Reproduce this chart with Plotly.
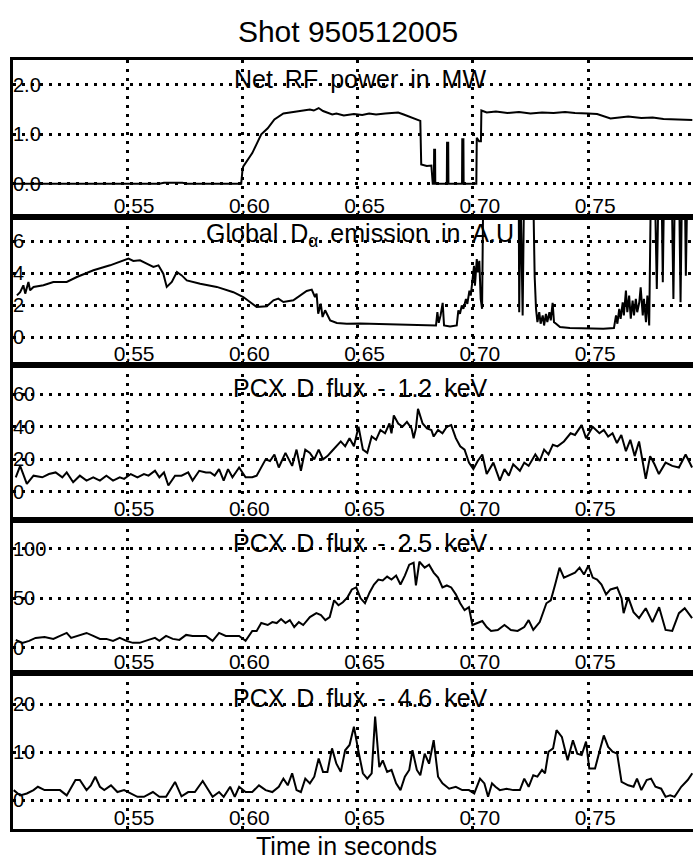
import plotly.graph_objects as go

# ---------------- data ----------------
X_TICKS = [0.55, 0.60, 0.65, 0.70, 0.75]
X_TICK_TEXT = ["0.55", "0.60", "0.65", "0.70", "0.75"]

panel_titles = ["Net RF power in MW",
                "Global D<sub>α</sub> emission in A.U",
                "PCX D flux - 1.2 keV",
                "PCX D flux - 2.5 keV",
                "PCX D flux - 4.6 keV"]

y_tickvals = [[0, 1, 2], [0, 2, 4, 6], [0, 20, 40, 60], [0, 50, 100], [0, 10, 20]]
y_ticktext = [["0.0", "1.0", "2.0"], ["0", "2", "4", "6"], ["0", "20", "40", "60"],
              ["0", "50", "100"], ["0", "10", "20"]]

# Net RF power (MW)
t_rf = [0.5005, 0.5400, 0.5640, 0.5660, 0.5740, 0.5760, 0.5995, 0.6001, 0.6004, 0.6043,
        0.6082, 0.6110, 0.6139, 0.6178, 0.6216, 0.6250, 0.6293, 0.6310, 0.6331, 0.6350,
        0.6369, 0.6390, 0.6408, 0.6440, 0.6484, 0.6520, 0.6550, 0.6580, 0.6620, 0.6676,
        0.6700, 0.6715, 0.6753, 0.6772, 0.6776, 0.6800, 0.6820, 0.6826, 0.6831, 0.6832,
        0.6836, 0.6837, 0.6887, 0.6888, 0.6893, 0.6894, 0.6953, 0.6954, 0.6959, 0.6960,
        0.7015, 0.7017, 0.7027, 0.7035, 0.7037, 0.7060, 0.7100, 0.7150, 0.7200, 0.7250,
        0.7300, 0.7350, 0.7400, 0.7443, 0.7500, 0.7539, 0.7597, 0.7640, 0.7674, 0.7731,
        0.7780, 0.7827, 0.7880, 0.7952]
rf = [0.0, 0.0, 0.0, 0.02, 0.02, 0.0, 0.0, 0.30, 0.35, 0.62,
      1.00, 1.12, 1.30, 1.42, 1.45, 1.47, 1.50, 1.48, 1.53, 1.47,
      1.44, 1.40, 1.42, 1.38, 1.41, 1.39, 1.42, 1.40, 1.42, 1.44,
      1.40, 1.37, 1.31, 1.27, 0.39, 0.36, 0.37, 0.0, 0.0, 0.69,
      0.69, 0.0, 0.0, 0.83, 0.83, 0.0, 0.0, 0.90, 0.90, 0.0,
      0.0, 0.93, 0.86, 0.86, 1.48, 1.44, 1.46, 1.43, 1.45, 1.42,
      1.44, 1.43, 1.45, 1.43, 1.42, 1.41, 1.32, 1.35, 1.36, 1.33,
      1.34, 1.31, 1.30, 1.29]

# Global D-alpha emission (A.U.)  (9 = off scale)
t_da = [0.5022, 0.5036, 0.5050, 0.5058, 0.5072, 0.5079, 0.5094, 0.5137, 0.5180, 0.5238,
        0.5282, 0.5354, 0.5426, 0.5484, 0.5506, 0.5527, 0.5556, 0.5585, 0.5614, 0.5636,
        0.5657, 0.5672, 0.5694, 0.5716, 0.5737, 0.5759, 0.5817, 0.5889, 0.5961, 0.6004,
        0.6033, 0.6062, 0.6106, 0.6135, 0.6156, 0.6178, 0.6221, 0.6250, 0.6279, 0.6301,
        0.6315, 0.6322, 0.6329, 0.6340, 0.6348, 0.6359, 0.6381, 0.6410, 0.6453, 0.6511,
        0.6583, 0.6655, 0.6727, 0.6800, 0.6840, 0.6846, 0.6852, 0.6860, 0.6869, 0.6875,
        0.6901, 0.6930, 0.6937, 0.6944, 0.6952, 0.6959, 0.6970, 0.6976, 0.6985, 0.6991,
        0.6999, 0.7005, 0.7009, 0.7017, 0.7022, 0.7028, 0.7034, 0.7040, 0.7045, 0.7199,
        0.7201, 0.7207, 0.7216, 0.7222, 0.7262, 0.7268, 0.7274, 0.7280, 0.7288, 0.7294,
        0.7303, 0.7309, 0.7317, 0.7323, 0.7332, 0.7338, 0.7346, 0.7352, 0.7361, 0.7378,
        0.7421, 0.7494, 0.7566, 0.7612, 0.7621, 0.7627, 0.7635, 0.7641, 0.7650, 0.7655,
        0.7664, 0.7670, 0.7678, 0.7685, 0.7693, 0.7699, 0.7707, 0.7713, 0.7722, 0.7728,
        0.7737, 0.7742, 0.7751, 0.7757, 0.7765, 0.7772, 0.7790, 0.7798, 0.7805, 0.7819,
        0.7824, 0.7829, 0.7863, 0.7870, 0.7876, 0.7895, 0.7901, 0.7907, 0.7920, 0.7924,
        0.7930, 0.7955]
da = [2.60, 2.80, 3.23, 2.71, 3.44, 2.92, 3.13, 3.23, 3.44, 3.44,
      3.75, 4.17, 4.48, 4.79, 4.90, 4.75, 4.79, 4.58, 4.38, 4.48,
      3.96, 3.13, 3.44, 4.06, 3.85, 3.54, 3.33, 3.13, 2.80, 2.50,
      2.19, 1.88, 1.92, 2.29, 2.40, 2.19, 2.29, 2.60, 2.88, 2.96,
      2.50, 2.71, 1.46, 2.08, 1.25, 1.67, 1.04, 0.88, 0.83, 0.85,
      0.83, 0.81, 0.77, 0.77, 0.72, 1.55, 0.89, 1.35, 2.13, 0.72,
      0.66, 0.72, 1.66, 1.45, 1.97, 1.76, 2.38, 2.07, 2.90, 2.59,
      3.93, 4.45, 3.21, 4.87, 4.04, 4.76, 2.38, 1.76, 9.0, 9.0,
      1.55, 9.0, 1.35, 9.0, 9.0, 3.83, 1.76, 0.93, 1.55, 0.83,
      1.35, 0.72, 1.45, 0.93, 1.55, 1.04, 2.13, 0.93, 0.83, 0.62,
      0.56, 0.52, 0.52, 0.56, 1.35, 0.83, 1.76, 1.14, 2.17, 1.35,
      2.90, 1.55, 2.59, 1.14, 2.28, 1.35, 2.38, 1.55, 2.17, 3.10,
      1.35, 2.38, 0.93, 2.59, 0.72, 9.0, 9.0, 3.00, 9.0, 9.0,
      3.42, 9.0, 9.0, 2.38, 9.0, 9.0, 2.17, 9.0, 9.0, 3.83,
      9.0, 9.0]

# PCX D flux 1.2 keV
t_p1 = [0.5017, 0.5036, 0.5065, 0.5094, 0.5132, 0.5161, 0.5190, 0.5219, 0.5238, 0.5266,
        0.5295, 0.5324, 0.5353, 0.5382, 0.5410, 0.5439, 0.5468, 0.5487, 0.5516, 0.5545,
        0.5573, 0.5593, 0.5621, 0.5640, 0.5660, 0.5679, 0.5708, 0.5736, 0.5765, 0.5784,
        0.5813, 0.5842, 0.5861, 0.5880, 0.5899, 0.5919, 0.5938, 0.5957, 0.5986, 0.6014,
        0.6043, 0.6062, 0.6101, 0.6120, 0.6139, 0.6158, 0.6187, 0.6216, 0.6235, 0.6254,
        0.6273, 0.6293, 0.6312, 0.6331, 0.6350, 0.6369, 0.6388, 0.6408, 0.6427, 0.6446,
        0.6465, 0.6484, 0.6504, 0.6523, 0.6542, 0.6561, 0.6580, 0.6599, 0.6619, 0.6638,
        0.6647, 0.6657, 0.6676, 0.6695, 0.6714, 0.6734, 0.6743, 0.6753, 0.6762, 0.6782,
        0.6801, 0.6820, 0.6830, 0.6849, 0.6868, 0.6887, 0.6906, 0.6926, 0.6945, 0.6964,
        0.6983, 0.7002, 0.7021, 0.7041, 0.7060, 0.7089, 0.7117, 0.7137, 0.7156, 0.7175,
        0.7204, 0.7223, 0.7242, 0.7271, 0.7290, 0.7309, 0.7328, 0.7347, 0.7367, 0.7395,
        0.7424, 0.7443, 0.7472, 0.7491, 0.7520, 0.7549, 0.7568, 0.7587, 0.7606, 0.7625,
        0.7644, 0.7664, 0.7683, 0.7702, 0.7721, 0.7750, 0.7769, 0.7788, 0.7807, 0.7836,
        0.7865, 0.7894, 0.7923, 0.7951]
p1 = [9, 16, 5, 10, 9, 11, 12, 9, 12, 6,
      10, 7, 9, 7, 10, 7, 9, 8, 11, 9,
      11, 10, 13, 9, 12, 4, 10, 10, 12, 7,
      13, 12, 12, 10, 14, 7, 14, 9, 15, 9,
      9, 10, 20, 19, 23, 15, 24, 16, 26, 13,
      26, 24, 20, 26, 20, 22, 25, 28, 31, 28,
      33, 28, 40, 26, 24, 34, 32, 38, 36, 42,
      36, 47, 42, 40, 43, 39, 33, 39, 51, 42,
      39, 38, 34, 38, 36, 40, 41, 33, 28, 26,
      18, 14, 19, 23, 11, 18, 7, 14, 10, 17,
      13, 18, 16, 23, 19, 26, 23, 29, 28, 31,
      36, 35, 41, 33, 40, 36, 38, 34, 36, 30,
      35, 25, 32, 22, 31, 8, 22, 17, 11, 18,
      16, 15, 23, 15]

# PCX D flux 2.5 keV
t_p2 = [0.5017, 0.5046, 0.5075, 0.5103, 0.5142, 0.5180, 0.5209, 0.5238, 0.5257, 0.5286,
        0.5324, 0.5353, 0.5382, 0.5410, 0.5439, 0.5468, 0.5497, 0.5525, 0.5554, 0.5593,
        0.5621, 0.5640, 0.5669, 0.5698, 0.5727, 0.5756, 0.5784, 0.5813, 0.5842, 0.5871,
        0.5899, 0.5928, 0.5957, 0.5986, 0.6014, 0.6043, 0.6062, 0.6082, 0.6110, 0.6130,
        0.6149, 0.6168, 0.6187, 0.6206, 0.6225, 0.6245, 0.6264, 0.6293, 0.6321, 0.6341,
        0.6360, 0.6379, 0.6398, 0.6417, 0.6436, 0.6456, 0.6475, 0.6494, 0.6513, 0.6532,
        0.6552, 0.6571, 0.6590, 0.6609, 0.6628, 0.6647, 0.6667, 0.6686, 0.6705, 0.6724,
        0.6743, 0.6753, 0.6768, 0.6791, 0.6810, 0.6830, 0.6849, 0.6868, 0.6887, 0.6906,
        0.6926, 0.6945, 0.6964, 0.6983, 0.6998, 0.7021, 0.7041, 0.7060, 0.7079, 0.7108,
        0.7137, 0.7165, 0.7194, 0.7223, 0.7242, 0.7262, 0.7290, 0.7319, 0.7338, 0.7357,
        0.7376, 0.7395, 0.7424, 0.7443, 0.7463, 0.7482, 0.7501, 0.7520, 0.7539, 0.7558,
        0.7578, 0.7597, 0.7626, 0.7645, 0.7654, 0.7674, 0.7697, 0.7721, 0.7750, 0.7779,
        0.7808, 0.7836, 0.7865, 0.7894, 0.7919, 0.7951]
p2 = [8, 5, 7, 10, 11, 9, 12, 15, 10, 12,
      15, 12, 9, 9, 7, 10, 7, 5, 5, 8,
      10, 7, 12, 9, 8, 13, 12, 12, 12, 7,
      15, 12, 12, 12, 7, 17, 17, 25, 23, 26,
      25, 29, 25, 28, 21, 26, 23, 31, 35, 33,
      28, 31, 48, 43, 46, 51, 59, 61, 50, 45,
      56, 64, 69, 68, 72, 69, 73, 64, 73, 84,
      86, 63, 87, 81, 84, 76, 71, 61, 63, 61,
      54, 45, 38, 41, 23, 25, 27, 21, 17, 18,
      23, 18, 17, 21, 28, 18, 26, 45, 48, 64,
      81, 71, 74, 76, 81, 74, 83, 71, 69, 64,
      54, 59, 61, 50, 35, 51, 36, 30, 40, 26,
      41, 18, 17, 35, 40, 30]

# PCX D flux 4.6 keV
t_p3 = [0.5008, 0.5036, 0.5065, 0.5094, 0.5113, 0.5142, 0.5180, 0.5209, 0.5238, 0.5276,
        0.5295, 0.5324, 0.5343, 0.5362, 0.5382, 0.5401, 0.5430, 0.5458, 0.5487, 0.5516,
        0.5545, 0.5573, 0.5612, 0.5640, 0.5669, 0.5708, 0.5736, 0.5765, 0.5794, 0.5828,
        0.5851, 0.5871, 0.5899, 0.5919, 0.5947, 0.5967, 0.5986, 0.6014, 0.6043, 0.6072,
        0.6101, 0.6130, 0.6158, 0.6178, 0.6197, 0.6216, 0.6235, 0.6254, 0.6273, 0.6293,
        0.6312, 0.6331, 0.6350, 0.6369, 0.6389, 0.6408, 0.6427, 0.6446, 0.6465, 0.6484,
        0.6504, 0.6523, 0.6542, 0.6561, 0.6576, 0.6594, 0.6609, 0.6628, 0.6647, 0.6667,
        0.6686, 0.6705, 0.6724, 0.6738, 0.6757, 0.6772, 0.6791, 0.6810, 0.6830, 0.6849,
        0.6868, 0.6897, 0.6926, 0.6954, 0.6983, 0.7006, 0.7031, 0.7050, 0.7066, 0.7083,
        0.7098, 0.7117, 0.7146, 0.7175, 0.7204, 0.7223, 0.7242, 0.7262, 0.7280, 0.7300,
        0.7313, 0.7328, 0.7348, 0.7363, 0.7386, 0.7411, 0.7434, 0.7453, 0.7472, 0.7491,
        0.7505, 0.7530, 0.7549, 0.7568, 0.7587, 0.7606, 0.7626, 0.7645, 0.7674, 0.7697,
        0.7712, 0.7731, 0.7754, 0.7773, 0.7792, 0.7817, 0.7836, 0.7856, 0.7875, 0.7904,
        0.7932, 0.7952]
p3 = [2.1, 1.0, 1.4, 2.1, 2.8, 2.1, 2.1, 2.1, 1.0, 4.2,
      4.2, 2.1, 3.1, 4.9, 2.8, 2.1, 3.1, 1.7, 2.1, 1.4,
      0.7, 0.7, 1.7, 0.7, 0.7, 3.8, 0.8, 1.7, 1.7, 4.0,
      2.1, 0.7, 1.7, 0.7, 2.8, 0.7, 2.8, 1.7, 1.7, 3.1,
      2.1, 1.7, 2.8, 4.5, 3.1, 5.6, 2.1, 1.7, 4.5, 3.5,
      4.9, 8.7, 5.9, 5.9, 10.8, 7.6, 5.9, 10.4, 11.5, 15.3,
      10.1, 5.6, 4.5, 5.6, 17.4, 6.9, 8.3, 5.9, 6.3, 3.5,
      2.1, 4.9, 6.3, 10.4, 6.3, 5.2, 9.7, 7.6, 12.5, 4.9,
      3.5, 2.4, 2.8, 2.1, 2.1, 1.4, 4.5, 3.5, 0.7, 3.5,
      2.8, 2.1, 2.4, 2.1, 2.1, 4.5, 2.8, 5.2, 4.9, 6.3,
      5.6, 10.1, 10.8, 14.6, 13.2, 8.3, 12.5, 9.7, 9.4, 12.2,
      6.6, 6.6, 10.1, 13.5, 11.1, 10.1, 9.7, 3.8, 3.1, 2.8,
      4.5, 2.1, 4.2, 4.5, 2.8, 2.4, 0.7, 1.0, 0.7, 2.8,
      4.2, 5.6]

series_t = [t_rf, t_da, t_p1, t_p2, t_p3]
series_v = [rf, da, p1, p2, p3]

# ---------------- layout ----------------
W, H = 693, 862
ML, MR, MT, MB = 13, 0, 60, 33
borders = [60, 217, 365, 520, 673, 829]          # panel edges, px from top
y_ranges = [[-0.67, 2.5], [-1.75, 7.5], [-17.2, 77.9], [-25.5, 129.2], [-6.0, 26.5]]
X_RANGE = [0.5005, 0.7955]
FONT = "Liberation Sans, Arial, Helvetica, sans-serif"
plot_h = H - MT - MB
GAP = " \u2009"

fig = go.Figure()
layout = dict(
    width=W, height=H,
    margin=dict(l=ML, r=MR, t=MT, b=MB, pad=0),
    paper_bgcolor="white", plot_bgcolor="white",
    showlegend=False,
    font=dict(family=FONT, color="black"),
    title=dict(text="Shot 950512005", font=dict(size=30, family=FONT, color="black"),
               x=348 / W, xanchor="center", xref="container",
               y=1 - 31 / H, yanchor="middle", yref="container"),
)
annotations = []
for i in range(5):
    n = "" if i == 0 else str(i + 1)
    top, bot = borders[i], borders[i + 1]
    dom = [(borders[-1] - bot) / plot_h, (borders[-1] - top) / plot_h]
    fig.add_trace(go.Scatter(x=series_t[i], y=series_v[i], mode="lines",
                             line=dict(color="black", width=2),
                             xaxis="x" + n, yaxis="y" + n, hoverinfo="skip"))
    layout["xaxis" + n] = dict(
        domain=[0, 1], anchor="y" + n, range=X_RANGE,
        tickvals=X_TICKS, ticktext=X_TICK_TEXT, ticks="",
        ticklabelposition="inside", ticklabelstandoff=1, ticklabelshift=7,
        tickfont=dict(size=21, family=FONT, color="black"),
        showgrid=True, gridcolor="black", gridwidth=2.5, griddash="3px,6px",
        zeroline=False, showline=True, linecolor="black", linewidth=3, mirror=True,
    )
    layout["yaxis" + n] = dict(
        domain=dom, anchor="x" + n, range=y_ranges[i],
        tickvals=y_tickvals[i], ticktext=y_ticktext[i], ticks="",
        ticklabelposition="inside", ticklabelstandoff=1, ticklabeloverflow="allow",
        tickfont=dict(size=20, family=FONT, color="black"),
        showgrid=True, gridcolor="black", gridwidth=2.5, griddash="3px,6px",
        zeroline=False, showline=True, linecolor="black", linewidth=3, mirror=False,
    )
    annotations.append(dict(
        text=panel_titles[i].replace(" ", GAP), xref="x" + n + " domain", yref="y" + n,
        x=(360 - ML) / (W - ML - MR), y=y_tickvals[i][-1], xanchor="center", yanchor="middle",
        yshift=6, showarrow=False, font=dict(size=25, family=FONT, color="black"),
    ))

annotations.append(dict(
    text="Time in seconds", xref="paper", yref="paper",
    x=(346 - ML) / (W - ML - MR), y=(borders[-1] - 846) / plot_h,
    xanchor="center", yanchor="middle", showarrow=False,
    font=dict(size=25, family=FONT, color="black"),
))
layout["annotations"] = annotations
fig.update_layout(**layout)
fig.write_html("out.html")
